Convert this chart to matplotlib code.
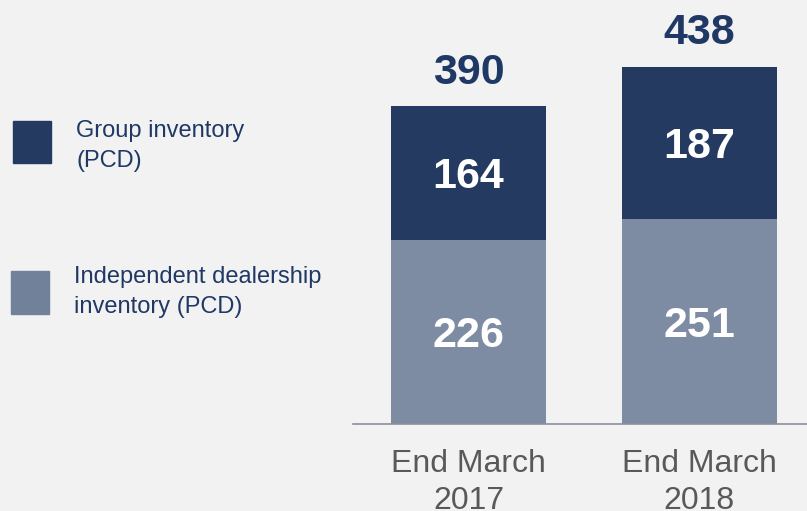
import matplotlib
matplotlib.use('Agg')
import matplotlib.pyplot as plt
from matplotlib.patches import Rectangle

# data
categories = ['End March\n2017', 'End March\n2018']
independent = [226, 251]
group = [164, 187]
totals = [390, 438]
legend_labels = ['Group inventory\n(PCD)', 'Independent dealership\ninventory (PCD)']

dark = '#243a61'
light = '#7e8ca3'
navy_text = '#1f3864'
bg = '#f2f2f2'

plt.rcParams['font.family'] = ['Liberation Sans', 'DejaVu Sans']

W, H = 807, 511
fig = plt.figure(figsize=(W / 100, H / 100), dpi=100, facecolor=bg)

# axes placed in pixel terms
ax_left, ax_right, ax_base = 353, 807, 424
ax = fig.add_axes([ax_left / W, (H - ax_base) / H, (ax_right - ax_left) / W, ax_base / H])
ax.set_facecolor(bg)

x = list(range(len(categories)))
px_per_unit = 230.5
x0 = -(468.5 - ax_left) / px_per_unit
x1 = (ax_right - 468.5) / px_per_unit
ax.set_xlim(x0, x1)
ax.set_ylim(0, ax_base / 0.816)

bw = 155 / px_per_unit
ax.bar(x, independent, width=bw, color=light, zorder=2)
ax.bar(x, group, width=bw, bottom=independent, color=dark, zorder=2)

for i in x:
    ax.annotate(str(independent[i]), (i, independent[i] / 2), xytext=(0, -3),
                textcoords='offset points', ha='center', va='center',
                color='white', fontsize=31, fontweight='bold')
    ax.annotate(str(group[i]), (i, independent[i] + group[i] / 2), xytext=(0, -3),
                textcoords='offset points', ha='center', va='center',
                color='white', fontsize=31, fontweight='bold')
    ax.annotate(str(totals[i]), (i, totals[i]), xytext=(0, 16), textcoords='offset points',
                ha='center', va='baseline', color=navy_text, fontsize=31, fontweight='bold')

ax.set_xticks(x)
ax.set_xticklabels(categories, fontsize=23, color='#595959', linespacing=1.3)
ax.tick_params(axis='x', length=0, pad=18)
ax.set_yticks([])
for s in ['top', 'left', 'right']:
    ax.spines[s].set_visible(False)
ax.spines['bottom'].set_color('#8a909c')
ax.spines['bottom'].set_linewidth(1.2)

# legend drawn by hand on the left
sq = [(13, 121, 38, 42, dark), (11, 271, 38, 43, '#72819a')]
txt = [(76, 146), (74, 292)]
for (sx, sy, sw, sh, c), (tx, ty), lab in zip(sq, txt, legend_labels):
    fig.add_artist(Rectangle((sx / W, (H - sy - sh) / H), sw / W, sh / H,
                             transform=fig.transFigure, color=c))
    fig.text(tx / W, (H - ty) / H, lab, ha='left', va='center', fontsize=17,
             color=navy_text, linespacing=1.45)

fig.savefig('out.png', dpi=100, facecolor=bg)
